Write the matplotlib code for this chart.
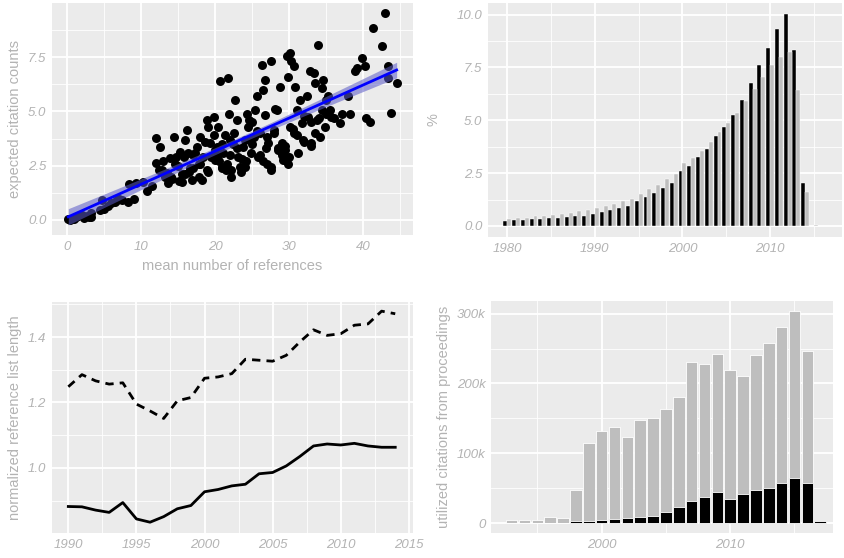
import numpy as np
import matplotlib
matplotlib.use('Agg')
import matplotlib.pyplot as plt
from matplotlib.ticker import FixedLocator, FuncFormatter

# panel A: mean references vs expected citation counts
ref_x = [0.2, 0.5, 0.8, 1.0, 1.2, 1.5, 2.0, 2.3, 2.7, 3.0, 3.2, 3.3, 4.5, 4.8, 5.0,
         5.5, 6.0, 6.5, 7.0, 7.5, 8.3, 8.4, 9.0, 9.4, 10.3, 10.8,
         12.1, 12.6, 12.0, 12.4, 13.0, 13.5, 14.4, 13.7, 13.9, 14.8, 15.3, 15.5, 16.0,
         16.2, 16.4, 16.6, 16.9, 17.5, 17.8, 18.0, 18.2, 18.4, 18.9, 19.1, 19.3, 18.9,
         19.8, 20.0, 20.2, 20.4, 20.7, 20.9, 21.1, 21.6, 21.8, 21.9, 22.0, 22.2, 22.5,
         22.7, 22.9, 23.1, 23.4, 23.8, 24.0, 24.3, 24.5, 24.7, 24.9, 25.2, 25.4, 25.6,
         25.8, 26.1, 26.3, 26.5, 26.7, 26.7, 27.0, 27.2, 27.6, 27.5, 27.9, 28.3, 28.5,
         28.8, 29.0, 29.2, 29.7, 29.9, 29.8, 30.1, 30.3, 30.1, 30.6, 30.6, 30.8, 31.0,
         31.2, 31.5, 31.7, 31.9, 32.4, 32.6, 32.8, 33.0, 33.3, 33.5, 33.7, 33.9, 34.2,
         34.4, 34.6, 34.4, 34.8, 35.3, 35.5, 35.7, 36.9, 37.1, 38.0, 38.2, 38.9, 39.1,
         39.8, 40.2, 40.4, 40.9, 41.3, 42.5, 42.9, 43.4, 43.4, 43.8, 44.5,
         14.0, 15.0, 15.2, 16.0, 17.0, 17.0, 18.0, 19.0, 19.5, 20.0, 20.5, 21.0, 21.5,
         21.0, 22.0, 23.0, 23.5, 24.0, 25.0, 25.0, 26.0, 26.5, 27.0, 27.5, 28.0, 28.5,
         29.0, 29.5, 30.0, 30.5, 31.0, 32.0, 32.0, 33.0, 33.5, 33.0, 34.0, 35.0, 35.0,
         36.0, 13.2, 14.6, 15.8, 17.3, 18.6, 19.7, 20.3, 21.3, 22.4, 23.6, 24.6, 25.7,
         26.9, 28.1, 29.4, 16.5, 17.9, 19.9, 22.1, 24.2, 12.8, 14.2, 15.6, 11.5, 6.8]
ref_y = [0.05, 0.0, 0.1, 0.05, 0.15, 0.2, 0.25, 0.1, 0.2, 0.15, 0.3, 0.15, 0.45, 0.9, 0.5,
         0.65, 0.8, 0.85, 0.95, 0.9, 0.85, 1.64, 0.95, 1.72, 1.75, 1.34,
         3.77, 3.38, 2.61, 2.3, 2.7, 2.15, 3.84, 1.7, 2.84, 2.92, 3.15, 1.77, 3.7,
         4.15, 3.07, 2.38, 1.84, 3.38, 2.6, 3.84, 1.84, 2.92, 4.6, 4.3, 3.53, 2.3,
         4.76, 2.76, 3.38, 4.3, 6.38, 2.46, 3.07, 2.6, 6.53, 4.9, 3.69, 2.0, 4.0,
         5.53, 4.6, 2.92, 2.46, 3.38, 2.46, 4.9, 4.3, 3.69, 3.07, 3.84, 5.07, 5.69,
         2.92, 4.0, 7.15, 6.0, 6.45, 4.84, 2.6, 3.53, 7.3, 2.46, 4.15, 5.07, 3.23,
         6.14, 3.53, 2.76, 7.53, 6.6, 2.6, 7.68, 7.3, 4.3, 7.07, 4.0, 6.14, 5.07,
         3.07, 5.53, 4.46, 3.69, 5.69, 4.76, 6.84, 3.53, 6.76, 6.3, 4.6, 8.07, 3.84,
         6.07, 6.45, 5.07, 4.3, 5.69, 5.07, 4.76, 4.46, 4.9, 5.69, 4.9, 6.84, 7.0,
         7.45, 7.07, 4.69, 4.53, 8.84, 8.0, 9.53, 7.07, 6.53, 4.92, 6.3,
         2.0, 2.5, 1.8, 2.1, 2.4, 3.0, 2.6, 2.2, 2.9, 3.2, 2.7, 2.4, 2.3,
         3.5, 3.0, 3.3, 2.2, 3.7, 3.5, 4.5, 3.0, 2.7, 3.8, 2.3, 4.0, 3.3,
         3.0, 3.2, 2.9, 4.2, 3.9, 4.8, 3.6, 4.5, 4.0, 3.4, 4.7, 4.9, 5.5,
         4.7, 2.0, 2.6, 2.9, 3.1, 3.6, 3.0, 2.9, 3.9, 3.5, 2.8, 4.6, 4.1,
         3.3, 5.1, 3.4, 2.2, 2.0, 3.9, 2.3, 2.7, 2.3, 1.9, 2.1, 1.55, 0.9]

# panel B: share per year (%)
pub_years = list(range(1980, 2016))
share_black = [0.24, 0.27, 0.28, 0.32, 0.35, 0.36, 0.40, 0.43, 0.47, 0.49,
               0.59, 0.66, 0.74, 0.85, 0.93, 1.19, 1.38, 1.57, 1.79, 2.04,
               2.59, 2.85, 3.26, 3.66, 4.24, 4.68, 5.27, 5.98, 6.76, 7.61,
               8.42, 9.34, 10.05, 8.34, 2.04, 0.0]
share_grey = [0.35, 0.36, 0.40, 0.46, 0.49, 0.54, 0.59, 0.63, 0.70, 0.74,
              0.87, 0.95, 1.03, 1.17, 1.30, 1.53, 1.74, 1.93, 2.20, 2.44,
              3.00, 3.20, 3.56, 3.96, 4.43, 4.87, 5.36, 5.89, 6.49, 7.04,
              7.63, 7.97, 8.21, 6.44, 1.60, 0.03]

# panel C: normalized reference list length
len_years = list(range(1990, 2015))
len_solid = [0.882, 0.881, 0.871, 0.864, 0.894, 0.844, 0.834, 0.851, 0.875, 0.885,
             0.927, 0.934, 0.945, 0.950, 0.982, 0.986, 1.006, 1.035, 1.067, 1.073,
             1.070, 1.075, 1.067, 1.063, 1.063]
len_dashed = [1.248, 1.285, 1.266, 1.256, 1.260, 1.195, 1.174, 1.151, 1.205, 1.215,
              1.274, 1.278, 1.288, 1.332, 1.329, 1.326, 1.344, 1.385, 1.422, 1.405,
              1.410, 1.436, 1.440, 1.479, 1.471]

# panel D: utilized citations from proceedings
proc_years = list(range(1993, 2018))
proc_all = [4, 4, 4, 9, 8, 48, 115, 132, 137, 123, 148, 151, 164, 180, 230,
            228, 242, 219, 211, 240, 258, 281, 303, 246, 0]
proc_black = [0, 0, 0, 0, 0, 3, 3.3, 5, 6, 7.5, 9, 11, 16, 23, 32,
              38, 45, 35, 42, 48, 51, 58, 65, 58, 2.5]

BG = '#EBEBEB'
TXT = '#B3B3B3'
GREY = '#BEBEBE'


def style_axes(ax, xmaj, xmin, ymaj, ymin):
    ax.set_facecolor(BG)
    for s in ax.spines.values():
        s.set_visible(False)
    ax.xaxis.set_major_locator(FixedLocator(xmaj))
    ax.xaxis.set_minor_locator(FixedLocator(xmin))
    ax.yaxis.set_major_locator(FixedLocator(ymaj))
    ax.yaxis.set_minor_locator(FixedLocator(ymin))
    ax.grid(True, which='major', color='white', linewidth=1.3)
    ax.grid(True, which='minor', color='white', linewidth=0.6)
    ax.set_axisbelow(True)
    ax.tick_params(which='both', length=0, pad=4, labelcolor=TXT, labelsize=9.5)
    for lab in ax.get_xticklabels() + ax.get_yticklabels():
        lab.set_fontstyle('italic')


def plot_scatter(ax):
    x = np.array(ref_x)
    y = np.array(ref_y)
    b, a = np.polyfit(x, y, 1)
    xs = np.linspace(x.min(), x.max(), 100)
    n = len(x)
    resid = y - (a + b * x)
    s = np.sqrt(np.sum(resid ** 2) / (n - 2))
    se = s * np.sqrt(1 / n + (xs - x.mean()) ** 2 / np.sum((x - x.mean()) ** 2))
    fit = a + b * xs
    ax.fill_between(xs, fit - 1.97 * se, fit + 1.97 * se, color='#5A5AC8', alpha=0.55,
                    linewidth=0, zorder=3)
    ax.scatter(x, y, s=42, color='black', linewidths=0, zorder=2)
    ax.plot(xs, fit, color='#0000FF', linewidth=2, zorder=4)
    ax.set_xlim(-2.0, 46.7)
    ax.set_ylim(-0.69, 9.99)
    style_axes(ax, [0, 10, 20, 30, 40], [5, 15, 25, 35, 45],
               [0, 2.5, 5.0, 7.5], [1.25, 3.75, 6.25, 8.75])
    ax.yaxis.set_major_formatter(FuncFormatter(lambda v, p: '%.1f' % v))
    ax.set_xlabel('mean number of references', color=TXT, fontsize=10.5, labelpad=5)
    ax.set_ylabel('expected citation counts', color=TXT, fontsize=10.5, labelpad=4)


def plot_share(ax):
    yrs = np.array(pub_years)
    w = 0.45
    ax.bar(yrs - w / 2, share_black, width=w, color='black', edgecolor='white',
           linewidth=0.3)
    ax.bar(yrs + w / 2, share_grey, width=w, color=GREY, edgecolor='white',
           linewidth=0.3)
    ax.set_xlim(1977.8, 2018.2)
    ax.set_ylim(-0.52, 10.55)
    style_axes(ax, [1980, 1990, 2000, 2010], [1985, 1995, 2005, 2015],
               [0, 2.5, 5.0, 7.5, 10.0], [1.25, 3.75, 6.25, 8.75])
    ax.yaxis.set_major_formatter(FuncFormatter(lambda v, p: '%.1f' % v))
    ax.set_ylabel('%', color=TXT, fontsize=10.5, labelpad=12)


def plot_length(ax):
    ax.plot(len_years, len_solid, color='black', linewidth=2)
    ax.plot(len_years, len_dashed, color='black', linewidth=2, linestyle=(0, (3, 2.2)))
    ax.set_xlim(1988.8, 2015.3)
    ax.set_ylim(0.801, 1.507)
    style_axes(ax, [1990, 1995, 2000, 2005, 2010, 2015],
               [1992.5, 1997.5, 2002.5, 2007.5, 2012.5],
               [1.0, 1.2, 1.4], [0.9, 1.1, 1.3, 1.5])
    ax.yaxis.set_major_formatter(FuncFormatter(lambda v, p: '%.1f' % v))
    ax.set_ylabel('normalized reference list length', color=TXT, fontsize=10.5,
                  labelpad=4)


def plot_proceedings(ax):
    ax.bar(proc_years, proc_all, width=0.9, color=GREY, edgecolor='white', linewidth=0.6)
    ax.bar(proc_years, proc_black, width=0.9, color='black', edgecolor='white',
           linewidth=0.6)
    ax.set_xlim(1991.4, 2018.0)
    ax.set_ylim(-14, 318)
    style_axes(ax, [2000, 2010], [1995, 2005, 2015],
               [0, 100, 200, 300], [50, 150, 250])
    ax.yaxis.set_major_formatter(FuncFormatter(lambda v, p: '0' if v == 0 else '%dk' % v))
    ax.set_ylabel('utilized citations from proceedings', color=TXT, fontsize=10.5,
                  labelpad=4)


def main():
    plt.rcParams['font.family'] = ['Liberation Sans', 'DejaVu Sans']
    fig = plt.figure(figsize=(8.45, 5.58), dpi=100)
    ax1 = fig.add_axes([0.0615, 0.5789, 0.4272, 0.4158])
    ax2 = fig.add_axes([0.5775, 0.5753, 0.4189, 0.4194])
    ax3 = fig.add_axes([0.0615, 0.0448, 0.4272, 0.4140])
    ax4 = fig.add_axes([0.5811, 0.0448, 0.4047, 0.4158])
    plot_scatter(ax1)
    plot_share(ax2)
    plot_length(ax3)
    plot_proceedings(ax4)
    fig.savefig('out.png', dpi=100)


if __name__ == "__main__":
    main()
